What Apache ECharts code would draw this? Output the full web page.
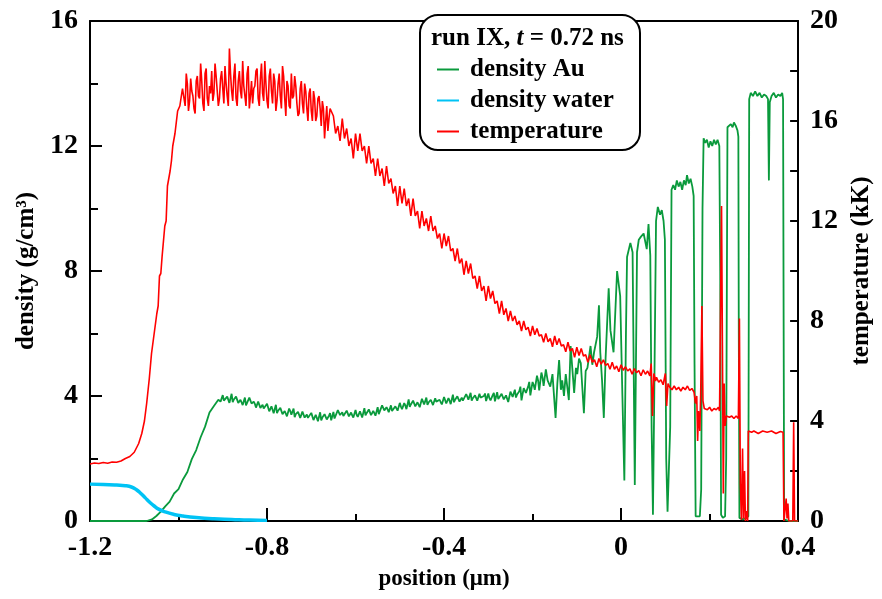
<!DOCTYPE html>
<html><head><meta charset="utf-8">
<script src="https://cdn.jsdelivr.net/npm/echarts@6/dist/echarts.min.js"></script>
<style>html,body{margin:0;padding:0;background:#fff}#c{width:882px;height:599px}</style>
</head><body><div id="c"></div>
<script>
// x axis: position (µm); left axis: density (g/cm3); right axis: temperature (kK)
const xTicks = [-1.2, -0.8, -0.4, 0, 0.4];
const densityTicks = [0, 4, 8, 12, 16];
const tempTicks = [0, 4, 8, 12, 16, 20];
const seriesNames = ['density Au', 'density water', 'temperature'];

// density of water [position, g/cm3]
const waterData = [[-1.2,1.18],[-1.17,1.17],[-1.14,1.15],[-1.12,1.13],[-1.105,1.08],[-1.095,1.0],[-1.085,0.88],[-1.075,0.74],[-1.065,0.6],[-1.055,0.48],[-1.045,0.38],[-1.03,0.29],[-1.01,0.21],[-0.99,0.16],[-0.96,0.11],[-0.92,0.07],[-0.88,0.05],[-0.84,0.03],[-0.8,0.02]];

// density of Au [position, g/cm3]
const auData = [[-1.2,0],[-1.1,0],[-1.072,0],[-1.06,0.05],[-1.05,0.16],[-1.04,0.3],[-1.03,0.47],[-1.02,0.62],[-1.01,0.88],[-1.0,1.02],[-0.99,1.33],[-0.98,1.57],[-0.97,1.98],[-0.96,2.27],[-0.95,2.68],[-0.94,3.02],[-0.93,3.47],[-0.92,3.68],[-0.91,3.88],[-0.905,3.82],
[-0.900,4.03],[-0.895,3.81],[-0.890,3.98],[-0.885,3.78],[-0.880,4.07],[-0.875,3.89],[-0.870,3.98],[-0.865,3.78],[-0.860,3.88],[-0.855,3.71],[-0.850,3.95],[-0.845,3.76],[-0.840,3.95],[-0.835,3.76],[-0.830,3.82],[-0.825,3.63],[-0.820,3.82],[-0.815,3.62],[-0.810,3.72],[-0.805,3.54],
[-0.800,3.75],[-0.795,3.51],[-0.790,3.67],[-0.785,3.45],[-0.780,3.72],[-0.775,3.53],[-0.770,3.62],[-0.765,3.42],[-0.760,3.52],[-0.755,3.35],[-0.750,3.6],[-0.745,3.4],[-0.740,3.6],[-0.735,3.42],[-0.730,3.49],[-0.725,3.3],[-0.720,3.5],[-0.715,3.31],[-0.710,3.41],[-0.705,3.24],
[-0.700,3.46],[-0.695,3.23],[-0.690,3.4],[-0.685,3.19],[-0.680,3.48],[-0.675,3.31],[-0.670,3.42],[-0.665,3.25],[-0.660,3.37],[-0.655,3.22],[-0.650,3.49],[-0.645,3.32],[-0.640,3.55],[-0.635,3.39],[-0.630,3.48],[-0.625,3.31],[-0.620,3.53],[-0.615,3.35],[-0.610,3.47],[-0.605,3.31],
[-0.600,3.55],[-0.595,3.33],[-0.590,3.51],[-0.585,3.31],[-0.580,3.61],[-0.575,3.45],[-0.570,3.57],[-0.565,3.39],[-0.560,3.52],[-0.555,3.37],[-0.550,3.64],[-0.545,3.48],[-0.540,3.7],[-0.535,3.54],[-0.530,3.64],[-0.525,3.48],[-0.520,3.7],[-0.515,3.54],[-0.510,3.67],[-0.505,3.53],
[-0.500,3.78],[-0.495,3.58],[-0.490,3.77],[-0.485,3.58],[-0.480,3.89],[-0.475,3.73],[-0.470,3.85],[-0.465,3.67],[-0.460,3.8],[-0.455,3.64],[-0.450,3.91],[-0.445,3.73],[-0.440,3.95],[-0.435,3.79],[-0.430,3.88],[-0.425,3.71],[-0.420,3.93],[-0.415,3.76],[-0.410,3.88],[-0.405,3.73],
[-0.400,3.97],[-0.395,3.76],[-0.390,3.93],[-0.385,3.74],[-0.380,4.04],[-0.375,3.88],[-0.370,3.99],[-0.365,3.82],[-0.360,3.95],[-0.355,3.79],[-0.350,4.06],[-0.345,3.88],[-0.340,4.1],[-0.335,3.93],[-0.330,4.02],[-0.325,3.85],[-0.320,4.07],[-0.315,3.89],[-0.310,4.0],[-0.305,3.84],
[-0.300,4.08],[-0.295,3.86],[-0.290,4.03],[-0.285,3.83],[-0.280,4.12],[-0.275,3.95],[-0.270,4.07],[-0.265,3.89],[-0.260,4.02],[-0.255,3.81],[-0.250,4.14],[-0.245,3.97],[-0.240,4.2],[-0.235,4.05],[-0.230,4.15],[-0.225,3.86],[-0.220,4.25],[-0.215,4.1],[-0.210,4.3],[-0.205,4.02],
[-0.200,4.45],[-0.195,4.2],[-0.190,4.65],[-0.185,4.18],[-0.180,4.75],[-0.175,4.32],[-0.170,4.85],[-0.166,4.5],[-0.160,4.3],[-0.155,4.7],[-0.148,3.3],[-0.144,4.4],[-0.140,5.15],[-0.136,4.2],[-0.133,4.5],[-0.129,4.0],[-0.125,4.7],[-0.118,3.87],[-0.114,5.6],[-0.106,4.1],
[-0.102,4.9],[-0.099,4.7],[-0.095,5.2],[-0.091,5.05],[-0.084,3.45],[-0.080,4.8],[-0.076,4.9],[-0.069,5.6],[-0.065,5.0],[-0.061,5.4],[-0.054,5.9],[-0.050,6.9],[-0.047,5.4],[-0.043,4.5],[-0.039,3.3],[-0.035,5.2],[-0.028,7.45],[-0.024,6.1],[-0.017,5.4],[-0.009,8.0],
[-0.002,7.2],[0.003,4.0],[0.0074,1.3],[0.011,6.0],[0.0135,8.45],[0.021,8.9],[0.026,8.6],[0.031,1.15],[0.036,8.6],[0.040,9.0],[0.045,9.1],[0.051,9.2],[0.058,8.7],[0.062,9.5],[0.066,8.5],[0.069,3.0],[0.072,0.2],[0.075,4.0],[0.079,9.6],[0.083,10.05],
[0.088,9.8],[0.092,9.95],[0.096,9.6],[0.099,9.0],[0.102,2.0],[0.105,0.3],[0.108,0.25],[0.111,3.0],[0.114,10.6],[0.118,10.75],[0.122,10.6],[0.126,10.9],[0.130,10.7],[0.134,10.85],[0.138,10.6],[0.142,10.9],[0.146,10.75],[0.149,11.07],[0.153,10.8],[0.157,10.95],
[0.161,10.7],[0.164,10.4],[0.166,5.0],[0.1685,0.15],[0.173,0.1],[0.178,0.15],[0.181,1.0],[0.184,10.0],[0.1865,12.25],[0.190,12.1],[0.194,12.2],[0.198,11.95],[0.202,12.15],[0.206,12.0],[0.210,12.2],[0.214,12.05],[0.218,12.2],[0.222,12.0],[0.224,8.0],[0.226,0.2],
[0.230,0.1],[0.235,0.15],[0.2375,2.0],[0.2404,12.6],[0.244,12.55],[0.248,12.7],[0.252,12.6],[0.255,12.75],[0.259,12.65],[0.263,12.5],[0.265,12.3],[0.266,6.0],[0.2674,0.1],[0.275,0.05],[0.283,0.1],[0.2876,0.15],[0.2895,13.5],[0.293,13.7],[0.298,13.6],[0.303,13.75],
[0.308,13.6],[0.313,13.7],[0.318,13.55],[0.323,13.65],[0.328,13.6],[0.332,13.5],[0.334,10.9],[0.336,13.4],[0.340,13.6],[0.345,13.7],[0.350,13.55],[0.355,13.65],[0.360,13.6],[0.364,13.7],[0.366,13.5],[0.3685,0.05],[0.38,0.0],[0.40,0.0]];

// extra readings in the noisy Au plateau [position, g/cm3]
const auPlateauExtra = [[-0.8975,3.85],[-0.8875,4.02],[-0.8775,3.8],[-0.8675,3.95],[-0.8575,3.92],[-0.8475,3.7],[-0.8375,3.9],[-0.8275,3.75],[-0.8175,3.8],[-0.8075,3.6],[-0.7975,3.7],[-0.7875,3.62],[-0.7775,3.45],[-0.7675,3.6],[-0.7575,3.47],[-0.7475,3.52],[-0.7375,3.32],[-0.7275,3.5],[-0.7175,3.45],[-0.7075,3.3],
[-0.6975,3.42],[-0.6875,3.3],[-0.6775,3.22],[-0.6675,3.4],[-0.6575,3.45],[-0.6475,3.28],[-0.6375,3.5],[-0.6275,3.36],[-0.6175,3.48],[-0.6075,3.38],[-0.5975,3.4],[-0.5875,3.56],[-0.5775,3.38],[-0.5675,3.55],[-0.5575,3.45],[-0.5475,3.42],[-0.5375,3.62],[-0.5275,3.57],[-0.5175,3.52],[-0.5075,3.72],
[-0.4975,3.66],[-0.4875,3.7],[-0.4775,3.65],[-0.4675,3.82],[-0.4575,3.72],[-0.4475,3.85],[-0.4375,3.72],[-0.4275,3.9],[-0.4175,3.82],[-0.4075,3.8],[-0.3975,3.95],[-0.3875,3.85],[-0.3775,3.8],[-0.3675,4.0],[-0.3575,3.85],[-0.3475,3.98],[-0.3375,3.85],[-0.3275,4.05],[-0.3175,3.95],[-0.3075,4.08],
[-0.2975,3.93],[-0.2875,4.1],[-0.2775,3.9],[-0.2675,4.12],[-0.2575,4.05],[-0.2475,4.1],[-0.2375,3.95],[-0.2275,4.3],[-0.2175,4.2],[-0.2075,4.45],[-0.1975,4.35],[-0.1875,4.5],[-0.1775,4.6]];

// temperature [position, kK]
const tempData = [[-1.2,2.28],[-1.19,2.32],[-1.18,2.3],[-1.17,2.34],[-1.16,2.31],[-1.15,2.36],[-1.14,2.35],[-1.13,2.4],[-1.12,2.5],[-1.11,2.58],[-1.10,2.75],[-1.09,3.1],[-1.083,3.5],[-1.077,4.0],[-1.072,4.7],[-1.066,5.7],[-1.061,6.7],[-1.055,7.5],[-1.049,8.3],[-1.046,8.6],[-1.043,9.8],[-1.040,9.9],[-1.037,10.6],[-1.031,11.8],[-1.028,12.0],[-1.025,13.4],[-1.019,14.0],[-1.016,14.4],[-1.013,15.0],[-1.008,15.5],[-1.002,16.4],[-0.997,16.6],[-0.991,17.3],
[-0.985,16.6],[-0.980,17.5],[-0.975,16.8],[-0.970,17.2],[-0.965,16.5],[-0.960,17.6],[-0.955,17.0],[-0.950,18.3],[-0.945,16.7],[-0.940,17.9],[-0.935,16.9],[-0.930,17.4],[-0.925,18.0],[-0.920,17.1],[-0.915,17.8],[-0.910,16.6],[-0.905,17.7],[-0.900,17.3],[-0.895,18.2],[-0.890,17.0],
[-0.885,18.9],[-0.880,17.2],[-0.875,17.8],[-0.870,16.9],[-0.865,17.6],[-0.860,17.2],[-0.855,18.4],[-0.850,17.0],[-0.845,17.9],[-0.840,16.5],[-0.835,17.6],[-0.830,17.3],[-0.825,18.0],[-0.820,16.9],[-0.815,17.7],[-0.810,17.1],[-0.805,18.4],[-0.800,16.8],[-0.795,17.8],[-0.790,17.2],
[-0.785,17.9],[-0.780,16.4],[-0.775,17.5],[-0.770,17.0],[-0.765,18.2],[-0.760,16.9],[-0.755,17.6],[-0.750,16.6],[-0.745,17.9],[-0.740,17.0],[-0.735,17.4],[-0.730,16.2],[-0.725,17.3],[-0.720,16.7],[-0.715,17.5],[-0.710,16.5],[-0.705,17.1],[-0.700,16.4],[-0.695,17.2],[-0.690,16.0],
[-0.685,16.9],[-0.680,16.5],[-0.675,16.8],[-0.670,15.3],[-0.665,16.6],[-0.660,16.1],[-0.655,16.4],
[-0.650,16.2],[-0.645,15.5],[-0.640,15.8],[-0.635,15.2],[-0.630,16.1],[-0.625,15.3],[-0.620,15.7],[-0.615,15.0],[-0.610,15.3],[-0.605,14.5],[-0.600,15.5],[-0.595,14.8],[-0.590,15.5],[-0.585,14.8],[-0.580,15.0],[-0.575,14.3],[-0.570,15.0],[-0.565,14.3],[-0.560,14.5],[-0.555,13.8],
[-0.550,14.5],[-0.545,13.8],[-0.540,14.1],[-0.535,13.4],[-0.530,14.2],[-0.525,13.5],[-0.520,13.7],[-0.515,13.1],[-0.510,13.4],[-0.505,12.6],[-0.500,13.4],[-0.495,12.7],[-0.490,13.3],[-0.485,12.6],[-0.480,12.9],[-0.475,12.2],[-0.470,12.9],[-0.465,12.2],[-0.460,12.4],[-0.455,11.7],
[-0.450,12.4],[-0.445,11.8],[-0.440,12.1],[-0.435,11.6],[-0.430,12.2],[-0.425,11.6],[-0.420,11.8],[-0.415,11.3],[-0.410,11.5],[-0.405,10.9],[-0.400,11.5],[-0.395,11.0],[-0.390,11.4],[-0.385,10.8],[-0.380,10.9],[-0.375,10.4],[-0.370,10.9],[-0.365,10.3],[-0.360,10.5],[-0.355,9.85],
[-0.350,10.4],[-0.345,9.9],[-0.340,10.3],[-0.335,9.7],[-0.330,9.8],[-0.325,9.3],[-0.320,9.8],[-0.315,9.2],[-0.310,9.4],[-0.305,8.8],[-0.300,9.4],[-0.295,8.9],[-0.290,9.2],[-0.285,8.7],[-0.280,8.8],[-0.275,8.3],[-0.270,8.8],[-0.265,8.25],[-0.260,8.5],[-0.255,8.0],
[-0.250,8.4],[-0.245,8.0],[-0.240,8.2],[-0.235,7.85],[-0.230,8.0],[-0.225,7.6],[-0.220,8.0],[-0.215,7.65],[-0.210,7.75],[-0.205,7.4],[-0.200,7.8],[-0.195,7.45],[-0.190,7.7],[-0.185,7.4],[-0.180,7.45],[-0.175,7.15],[-0.170,7.5],[-0.165,7.17],[-0.160,7.3],[-0.155,6.97],
[-0.150,7.4],[-0.145,7.05],[-0.140,7.3],[-0.135,7.0],[-0.130,7.05],[-0.125,6.77],[-0.120,7.15],[-0.115,6.8],[-0.110,6.9],[-0.105,6.55],[-0.100,6.95],[-0.095,6.62],[-0.090,6.9],[-0.085,6.6],[-0.080,6.65],[-0.075,6.35],[-0.070,6.65],[-0.065,6.35],[-0.060,6.45],[-0.055,6.17],
[-0.050,6.5],[-0.045,6.27],[-0.040,6.45],[-0.035,6.22],[-0.030,6.3],[-0.025,6.07],[-0.020,6.35],[-0.015,6.07],[-0.010,6.2],[-0.005,5.97],[0.000,6.25],[0.005,6.03],[0.010,6.17],[0.015,6.0],[0.020,6.09],[0.025,5.87],[0.030,6.1],[0.035,5.93],[0.040,6.02],[0.045,5.81],
[0.050,6.05],[0.055,5.87],[0.060,6.0],[0.065,5.8],[0.068,6.3],[0.071,4.2],[0.074,5.9],[0.078,5.6],[0.080,5.75],[0.085,5.55],[0.090,5.65],[0.095,5.45],[0.100,5.9],[0.103,4.6],[0.106,5.5],[0.110,5.35],[0.115,5.25],[0.120,5.4],[0.125,5.25],[0.130,5.35],
[0.135,5.2],[0.140,5.35],[0.145,5.25],[0.150,5.4],[0.155,5.22],[0.160,5.3],[0.165,5.15],[0.168,4.7],[0.171,5.0],[0.173,3.2],[0.175,4.4],[0.178,3.6],[0.180,5.2],[0.1826,8.6],[0.185,4.8],[0.188,4.5],[0.195,4.45],[0.200,4.55],[0.205,4.4],[0.210,4.5],
[0.215,4.45],[0.220,4.55],[0.2225,4.4],[0.225,9.0],[0.227,12.6],[0.229,7.0],[0.231,1.1],[0.233,5.5],[0.235,3.8],[0.238,4.2],[0.245,4.15],[0.250,4.2],[0.255,4.1],[0.260,4.2],[0.265,4.1],[0.2674,8.1],[0.2695,1.5],[0.2719,0.05],[0.2745,2.9],[0.2765,0.1],
[0.279,2.0],[0.281,0.0],[0.2835,0.4],[0.286,0.0],[0.2875,3.6],[0.295,3.55],[0.30,3.6],[0.31,3.5],[0.32,3.6],[0.33,3.55],[0.34,3.6],[0.35,3.5],[0.36,3.58],[0.366,3.55],[0.368,0.0],[0.372,0.0],[0.373,0.9],[0.375,0.1],[0.377,0.7],[0.379,0.0],
[0.388,0.0],[0.390,3.95],[0.392,0.0],[0.40,0.0]];

// extra readings in the noisy temperature plateau [position, kK]
const tempPlateauExtra = [[-0.9825,17.9],[-0.9775,16.4],[-0.9725,17.7],[-0.9675,17.0],[-0.9625,16.3],[-0.9575,17.8],[-0.9525,16.9],[-0.9475,17.6],[-0.9425,16.4],[-0.9375,18.1],[-0.9325,16.6],[-0.9275,17.1],[-0.9225,16.8],[-0.9175,18.3],[-0.9125,17.2],[-0.9075,16.9],[-0.9025,18.0],[-0.8975,16.7],[-0.8925,17.5],[-0.8875,16.6],
[-0.8825,17.9],[-0.8775,16.8],[-0.8725,18.3],[-0.8675,16.6],[-0.8625,18.0],[-0.8575,16.9],[-0.8525,17.4],[-0.8475,16.6],[-0.8425,18.2],[-0.8375,17.0],[-0.8325,16.7],[-0.8275,17.4],[-0.8225,18.1],[-0.8175,16.6],[-0.8125,18.3],[-0.8075,16.8],[-0.8025,17.5],[-0.7975,16.5],[-0.7925,18.1],[-0.7875,16.7],
[-0.7825,17.6],[-0.7775,16.8],[-0.7725,17.9],[-0.7675,16.5],[-0.7625,17.8],[-0.7575,16.2],[-0.7525,17.4],[-0.7475,16.5],[-0.7425,16.9],[-0.7375,17.8],[-0.7325,16.7],[-0.7275,16.3],[-0.7225,17.6],[-0.7175,16.3],[-0.7125,17.2],[-0.7075,16.0],[-0.7025,17.3],[-0.6975,16.0],[-0.6925,16.9],[-0.6875,16.2],
[-0.6825,17.0],[-0.6775,15.8],[-0.6725,16.5],[-0.6675,16.0],[-0.6625,15.6],[-0.6575,16.5]];

const byPosition = (a, b) => a[0] - b[0];
const auSeries = auData.concat(auPlateauExtra).sort(byPosition);
const tempSeries = tempData.concat(tempPlateauExtra).sort(byPosition);

const FONT = 'Liberation Serif';
const GREEN = '#0a9a3c', BLUE = '#00c3f5', RED = '#ff0000';

const chart = echarts.init(document.getElementById('c'), null, {renderer: 'canvas'});
const labelStyle = {fontFamily: FONT, fontWeight: 'bold', fontSize: 28, color: '#000'};
const nameStyle = {fontFamily: FONT, fontWeight: 'bold', fontSize: 23, color: '#000'};
const yNameStyle = {fontFamily: FONT, fontWeight: 'bold', fontSize: 25, color: '#000'};
const axisLine = {show: true, onZero: false, lineStyle: {color: '#000', width: 2}};

chart.setOption({
  animation: false,
  backgroundColor: '#fff',
  grid: {left: 90, right: 80, top: 21, bottom: 78},
  xAxis: [{
    type: 'value', min: xTicks[0], max: xTicks[xTicks.length - 1], interval: 0.4,
    axisLine: axisLine,
    axisTick: {show: true, inside: true, length: 13, lineStyle: {color: '#000', width: 2}},
    minorTick: {show: true, splitNumber: 2, length: 7, lineStyle: {color: '#000', width: 2}},
    splitLine: {show: false},
    axisLabel: {margin: 13, ...labelStyle},
    name: 'position (μm)', nameLocation: 'middle', nameGap: 47, nameTextStyle: nameStyle
  }, {
    type: 'value', position: 'top', min: xTicks[0], max: xTicks[xTicks.length - 1],
    axisLine: axisLine, axisTick: {show: false}, axisLabel: {show: false}, splitLine: {show: false}
  }],
  yAxis: [{
    type: 'value', min: densityTicks[0], max: densityTicks[densityTicks.length - 1], interval: 4,
    axisLine: axisLine,
    axisTick: {show: true, inside: true, length: 12, lineStyle: {color: '#000', width: 2}},
    minorTick: {show: true, splitNumber: 2, length: 8, lineStyle: {color: '#000', width: 2}},
    splitLine: {show: false},
    axisLabel: {margin: 12, ...labelStyle},
    name: 'density (g/cm³)', nameLocation: 'middle', nameGap: 51, nameTextStyle: yNameStyle
  }, {
    type: 'value', position: 'right', min: tempTicks[0], max: tempTicks[tempTicks.length - 1], interval: 4,
    axisLine: axisLine,
    axisTick: {show: true, inside: true, length: 8, lineStyle: {color: '#000', width: 2}},
    minorTick: {show: true, splitNumber: 2, length: 8, lineStyle: {color: '#000', width: 2}},
    splitLine: {show: false},
    axisLabel: {margin: 12, ...labelStyle},
    name: 'temperature (kK)', nameLocation: 'middle', nameGap: 44, nameRotate: 90, nameTextStyle: yNameStyle
  }],
  legend: {
    orient: 'vertical', left: 432, top: 52, itemWidth: 22, itemHeight: 2, itemGap: 6,
    icon: 'rect', selectedMode: false, z: 120,
    textStyle: {fontFamily: FONT, fontWeight: 'bold', fontSize: 25, color: '#000', padding: [0, 0, 0, 6]},
    data: seriesNames
  },
  graphic: [
    {type: 'rect', z: 110, shape: {x: 420, y: 15, width: 220, height: 135, r: 18},
     style: {fill: '#fff', stroke: '#000', lineWidth: 2}},
    {type: 'text', z: 120, left: 431, top: 26,
     style: {text: '{a|run IX, }{b|t}{a| = 0.72 ns}',
       rich: {a: {fontFamily: FONT, fontWeight: 'bold', fontSize: 25, fill: '#000'},
              b: {fontFamily: FONT, fontWeight: 'bold', fontStyle: 'italic', fontSize: 25, fill: '#000'}}}}
  ],
  series: [
    {name: seriesNames[0], type: 'line', xAxisIndex: 0, yAxisIndex: 0, data: auSeries, showSymbol: false,
     color: GREEN, lineStyle: {color: GREEN, width: 1.8}, z: 2},
    {name: seriesNames[1], type: 'line', xAxisIndex: 0, yAxisIndex: 0, data: waterData, showSymbol: false, smooth: true,
     color: BLUE, lineStyle: {color: BLUE, width: 3.5}, z: 3},
    {name: seriesNames[2], type: 'line', xAxisIndex: 0, yAxisIndex: 1, data: tempSeries, showSymbol: false,
     color: RED, lineStyle: {color: RED, width: 1.6}, z: 4}
  ]
});
</script></body></html>
